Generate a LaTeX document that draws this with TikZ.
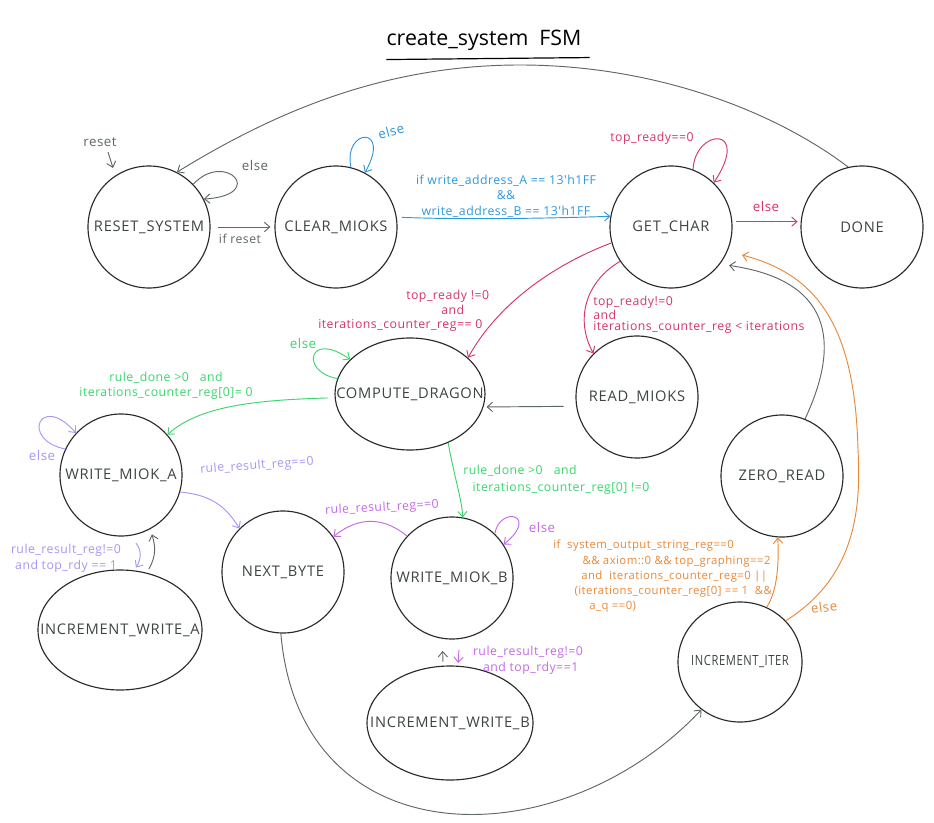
\documentclass[tikz,border=0pt]{standalone}
\usepackage{fontspec}
\setmainfont{Open Sans}
\newfontfamily\statefamily[LetterSpace=5]{Open Sans}
\newfontfamily\lblfamily[LetterSpace=4]{Open Sans}
\newcommand\statefont{\statefamily\fontsize{11}{13}\selectfont}
\newcommand\lf[2]{\lblfamily\fontsize{#1}{#2}\selectfont}
\newcommand\nl[1]{\makebox[0pt]{#1}}
\usetikzlibrary{arrows.meta,shapes.geometric,calc}
\definecolor{nodeline}{HTML}{2A2A2A}
\definecolor{nodetext}{HTML}{3D4543}
\definecolor{egray}{HTML}{5E6866}
\definecolor{eblue}{HTML}{2E98DE}
\definecolor{ered}{HTML}{D5346E}
\definecolor{egreen}{HTML}{3BD66E}
\definecolor{elav}{HTML}{A597F7}
\definecolor{eviol}{HTML}{C46AE6}
\definecolor{eorange}{HTML}{E8893A}
\begin{document}
\begin{tikzpicture}[x=0.75pt,y=-0.75pt,
  state/.style={draw=nodeline, line width=0.85pt, circle, minimum size=91.5pt, inner sep=0pt, font=\statefont, text=nodetext},
  ellstate/.style={draw=nodeline, line width=0.85pt, ellipse, inner sep=0pt, font=\statefont, text=nodetext},
  edge/.style={line width=0.7pt, -{Straight Barb[length=4pt,width=7pt]}},
  lbl/.style={font=\lf{9.2}{10.5}, inner sep=0pt, align=center},
  elselbl/.style={font=\lf{10}{11}, inner sep=0pt},
]
\useasboundingbox[fill=white] (0,0) rectangle (934,823);

% title
\node[font=\fontsize{16}{18}\selectfont, text=black, inner sep=0pt] (title) at (484,40) {create\_system~~FSM};
\draw[line width=0.9pt] ($(title.south west)+(0,9)$) -- ($(title.south east)+(8,7)$);

% states
\node[state] (reset) at (149,227) {\nl{RESET\_SYSTEM}};
\node[state] (clear) at (336,227) {\nl{CLEAR\_MIOKS}};
\node[state] (getchar) at (671,227) {\nl{GET\_CHAR}};
\node[state] (done) at (862,227) {\nl{DONE}};
\node[ellstate, minimum width=112.5pt, minimum height=84pt] (compute) at (410,394) {\nl{COMPUTE\_DRAGON}};
\node[state] (readm) at (637,397) {\nl{READ\_MIOKS}};
\node[state] (zeroread) at (782,476) {\nl{ZERO\_READ}};
\node[state] (wa) at (121,475) {\nl{WRITE\_MIOK\_A}};
\node[state] (nextbyte) at (283,572) {\nl{NEXT\_BYTE}};
\node[state] (wb) at (452,578) {\nl{WRITE\_MIOK\_B}};
\node[ellstate, minimum width=123pt, minimum height=90pt] (incwa) at (120,630) {\nl{INCREMENT\_WRITE\_A}};
\node[ellstate, minimum width=124.5pt, minimum height=85.5pt] (incwb) at (450,723) {\nl{INCREMENT\_WRITE\_B}};
\node[ellstate, minimum width=93pt, minimum height=90pt, font=\statefamily\fontsize{10.5}{12}\selectfont] (inciter) at (740,662) {\nl{\scalebox{0.8}[1]{INCREMENT\_ITER}}};

% ---- gray edges
\node[elselbl, text=egray] (lreset) at (100,142) {reset};
\coordinate (rs0) at (108,152);
\coordinate (rs1) at (113,168);
\draw[edge, egray] (rs0) -- (rs1);
\draw[edge, egray] (reset.44) .. controls (225,150) and (268,195) .. (reset.27);
\node[elselbl, text=egray] (lelse1) at (255,166) {else};
\draw[edge, egray] ($(reset.east)+(7,0)$) -- ($(clear.west)+(-4,0)$);
\node[lbl, text=egray] (lifreset) at (240,239) {if reset};
\draw[edge, egray] (done.103) .. controls (770,108) and (650,65) .. (520,65)
   .. controls (380,65) and (270,115) .. (reset.63);
\draw[edge, egray] ($(readm.185)+(-12,4)$) -- ($(compute.-10)+(3,0)$);
\draw[edge, egray] (zeroread.68) .. controls (842,340) and (830,280) .. ($(getchar.-34)+(7,4)$);
\draw[edge, egray] ($(incwa.64)+(1,-4)$) .. controls (157,555) and (155,545) .. ($(wa.-62)+(2,5)$);
\draw[edge, egray, shorten <=3pt, shorten >=9pt] ($(incwb.95)+(-2,0)$) -- ($(wb.-98)+(-1,0)$);
\draw[edge, egray] (nextbyte.-92) .. controls (300,860) and (560,860) .. (inciter.231);

% ---- blue
\draw[edge, eblue] (clear.76) .. controls (343,128) and (392,125) .. (clear.62);
\node[elselbl, text=eblue, rotate=15] (lelse2) at (391,131) {else};
\draw[edge, eblue] ($(clear.9)+(5,0)$) .. controls (470,220) and (560,218) .. (getchar.170);
\node[lbl, text=eblue, font=\lf{9.2}{11.5}] (lwaddr) at (506,196) {if write\_address\_A == 13'h1FF\\ \&\&\\ write\_address\_B == 13'h1FF};

% ---- red
\draw[edge, ered] (getchar.69) .. controls (695,128) and (752,125) .. (getchar.46);
\node[lbl, text=ered] (ltop0) at (652,138) {top\_ready==0};
\draw[edge, ered] ($(getchar.5)+(4,0)$) -- ($(done.175)+(-3,0)$);
\node[elselbl, text=ered] (lelse3) at (766,207) {else};
\draw[edge, ered] (getchar.195) .. controls (560,262) and (500,300) .. (compute.32);
\node[lbl, text=ered, anchor=west] (lc1) at (406,296) {top\_ready !=0};
\node[lbl, text=ered, anchor=west] (lc2) at (441,310) {and};
\node[lbl, text=ered, anchor=west] (lc3) at (318,325) {iterations\_counter\_reg== 0};
\draw[edge, ered] (getchar.214) .. controls (585,282) and (575,320) .. (readm.135);
\node[lbl, text=ered, anchor=north west, align=left, font=\lf{9.2}{8.4}] (lrd) at (593,296) {top\_ready!=0\\and\\iterations\_counter\_reg < iterations};

% ---- green
\draw[edge, egreen] (compute.168) .. controls (300,372) and (308,330) .. (compute.150);
\node[elselbl, text=egreen] (lelse4) at (303,343) {else};
\draw[edge, egreen] ($(compute.183)+(-7,0)$) .. controls (260,400) and (200,405) .. (wa.41);
\node[lbl, text=egreen, font=\lf{9.2}{11.5}] (lga) at (166,386) {rule\_done >0~~~and\\iterations\_counter\_reg[0]= 0};
\draw[edge, egreen] (compute.308) .. controls (455,480) and (462,500) .. (wb.80);
\node[lbl, text=egreen, anchor=north west, align=left, font=\lf{9.2}{12.5}] (lgb) at (463,465) {rule\_done >0~~~and\\\hspace*{7pt}iterations\_counter\_reg[0] !=0};

% ---- lavender (WRITE_MIOK_A side)
\draw[edge, elav] (wa.155) .. controls (20,440) and (40,392) .. (wa.137);
\node[elselbl, text=elav] (lelse5) at (42,455) {else};
\draw[edge, elav] (wa.-16) .. controls (210,495) and (225,505) .. (nextbyte.135);
\node[lbl, text=elav, rotate=4] (lrra) at (257,466) {rule\_result\_reg==0};
\draw[edge, elav] ($(wa.-74)+(-2,9)$) .. controls (142,550) and (141,560) .. ($(incwa.75)+(0,-3)$);
\node[lbl, text=elav, font=\lf{9.2}{12}] (lra) at (66,558) {rule\_result\_reg!=0\\and top\_rdy == 1};

% ---- violet (WRITE_MIOK_B side)
\draw[edge, eviol] (wb.137) .. controls (385,518) and (360,515) .. (nextbyte.35);
\node[lbl, text=eviol, rotate=3] (lrrb) at (382,508) {rule\_result\_reg==0};
\draw[edge, eviol] (wb.46) .. controls (500,505) and (540,515) .. (wb.33);
\node[elselbl, text=eviol] (lelse6) at (542,527) {else};
\draw[edge, eviol, shorten <=8pt, shorten >=2pt] (wb.-83) -- (incwb.82);
\node[lbl, text=eviol, font=\lf{9.2}{12}] (lrb) at (528,660) {rule\_result\_reg!=0\\\hspace*{4pt}and top\_rdy==1};

% ---- orange
\draw[edge, eorange] (inciter.64) .. controls (778,590) and (779,560) .. (zeroread.266);
\node[lbl, text=eorange, anchor=north west, align=left, font=\lf{8.5}{11.3}] (lor) at (553,540) {if~~system\_output\_string\_reg==0\\
\hspace*{22pt}\&\& axiom::0 \&\& top\_graphing==2\\
\hspace*{21pt}and~~iterations\_counter\_reg=0 ||\\
\hspace*{16pt}(iterations\_counter\_reg[0] == 1~~\&\&\\
\hspace*{27pt}a\_q ==0)};
\draw[edge, eorange] (inciter.42) .. controls (850,580) and (862,520) .. (858,450)
   .. controls (855,330) and (820,275) .. ($(getchar.-22)+(14,5)$);
\node[elselbl, text=eorange, rotate=8] (lelse7) at (824,607) {else};
\end{tikzpicture}
\end{document}
